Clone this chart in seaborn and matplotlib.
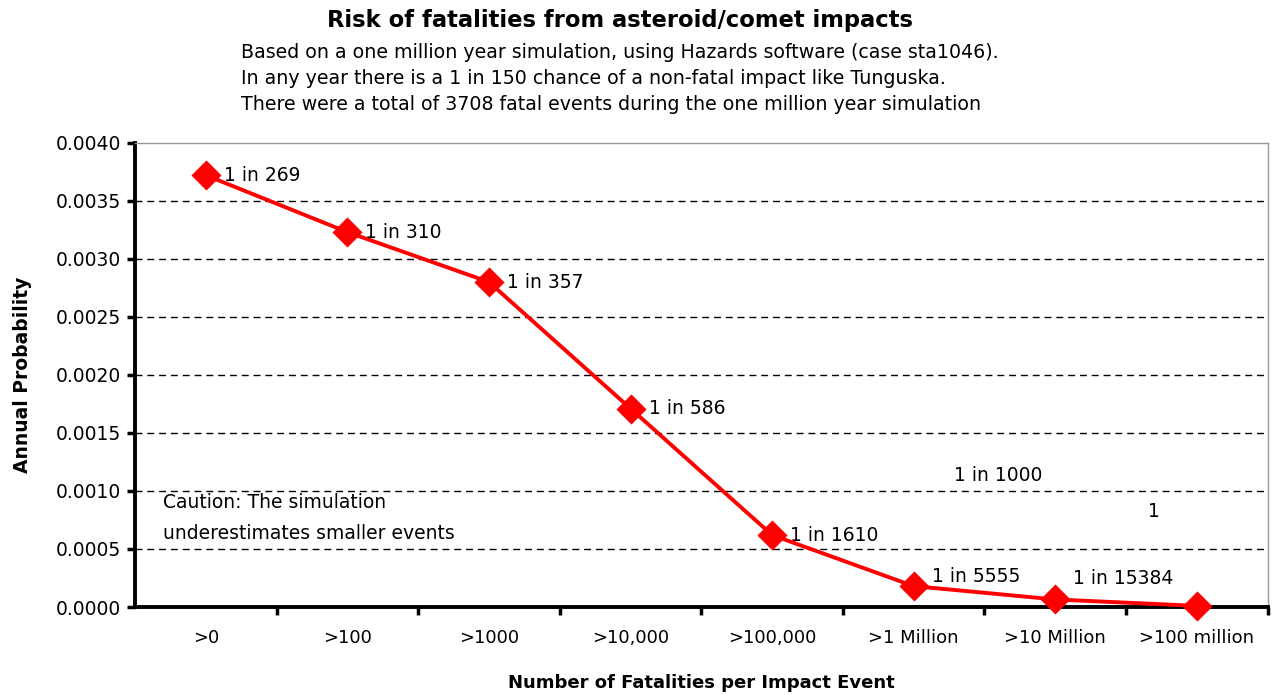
import matplotlib
matplotlib.use("Agg")
import matplotlib.pyplot as plt
import seaborn as sns
import pandas as pd
import numpy as np

# Data
categories = [">0", ">100", ">1000", ">10,000", ">100,000", ">1 Million", ">10 Million", ">100 million"]
probability = [0.00372, 0.00323, 0.00280, 0.00171, 0.00062, 0.00018, 0.000065, 0.00001]
point_labels = ["1 in 269", "1 in 310", "1 in 357", "1 in 586", "1 in 1610", "1 in 5555", "1 in 15384", ""]
yticks = [0.0, 0.0005, 0.0010, 0.0015, 0.0020, 0.0025, 0.0030, 0.0035, 0.0040]

df = pd.DataFrame({"cat": categories, "p": probability})

sns.set_theme(style="white")
plt.rcParams["font.family"] = ["DejaVu Sans"]
for key in ["text.color", "axes.labelcolor", "xtick.color", "ytick.color"]:
    plt.rcParams[key] = "black"

fig = plt.figure(figsize=(12.74, 6.95), dpi=100)
ax = fig.add_axes([0.106, 0.1266, 0.889, 0.668])

sns.pointplot(data=df, x="cat", y="p", color="#ff0000", markers="D",
              markersize=13, linewidth=2.8, errorbar=None, ax=ax)
for ln in ax.lines:
    ln.set_clip_on(False)
    ln.set_zorder(5)

ax.set_xlim(-0.5, len(categories) - 0.5)
ax.set_ylim(0, 0.004)
ax.set_yticks(yticks)
ax.set_yticklabels([f"{v:.4f}" for v in yticks], fontsize=13.5)
ax.set_xticks(range(len(categories)))
ax.set_xticklabels(categories, fontsize=13)
ax.set_xticks(np.arange(0.5, len(categories), 1.0), minor=True)
ax.tick_params(axis="x", which="major", length=0, pad=16, bottom=True)
ax.tick_params(axis="x", which="minor", length=6, width=2.5, color="black",
               direction="out", bottom=True)
ax.tick_params(axis="y", which="major", length=6, width=2.5, color="black",
               direction="out", pad=4, left=True)

for v in yticks[1:-1]:
    ax.axhline(v, color="black", linestyle=(0, (5, 3.5)), linewidth=1.0, zorder=0)

for side in ["left", "bottom"]:
    ax.spines[side].set_color("black")
    ax.spines[side].set_linewidth(2.8)
for side in ["top", "right"]:
    ax.spines[side].set_color("#999999")
    ax.spines[side].set_linewidth(1.0)

# point labels
for i, (v, lab) in enumerate(zip(probability, point_labels)):
    if not lab:
        continue
    dy = {5: 7, 6: 15}.get(i, 0)
    ax.annotate(lab, (i, v), xytext=(13, dy), textcoords="offset points",
                ha="left", va="center", fontsize=13.5)

# stray labels left in the original chart
ax.text(5.6, 0.00113, "1 in 1000", ha="center", va="center", fontsize=13.5)
ax.text(6.7, 0.00082, "1", ha="center", va="center", fontsize=13.5)

ax.text(-0.3, 0.00077, "Caution: The simulation\nunderestimates smaller events",
        ha="left", va="center", fontsize=13.5, linespacing=1.8)

ax.set_xlabel("Number of Fatalities per Impact Event", fontsize=13,
              fontweight="bold", labelpad=19)
ax.set_ylabel("Annual Probability", fontsize=13.5, fontweight="bold", labelpad=17)

fig.text(0.487, 0.970, "Risk of fatalities from asteroid/comet impacts",
         ha="center", va="center", fontsize=16.3, fontweight="bold")
sub = ["Based on a one million year simulation, using Hazards software (case sta1046).",
       "In any year there is a 1 in 150 chance of a non-fatal impact like Tunguska.",
       "There were a total of 3708 fatal events during the one million year simulation"]
for k, line in enumerate(sub):
    fig.text(0.189, 0.925 - k * 0.0375, line, ha="left", va="center", fontsize=13.7)

fig.savefig("out.png", dpi=100)
